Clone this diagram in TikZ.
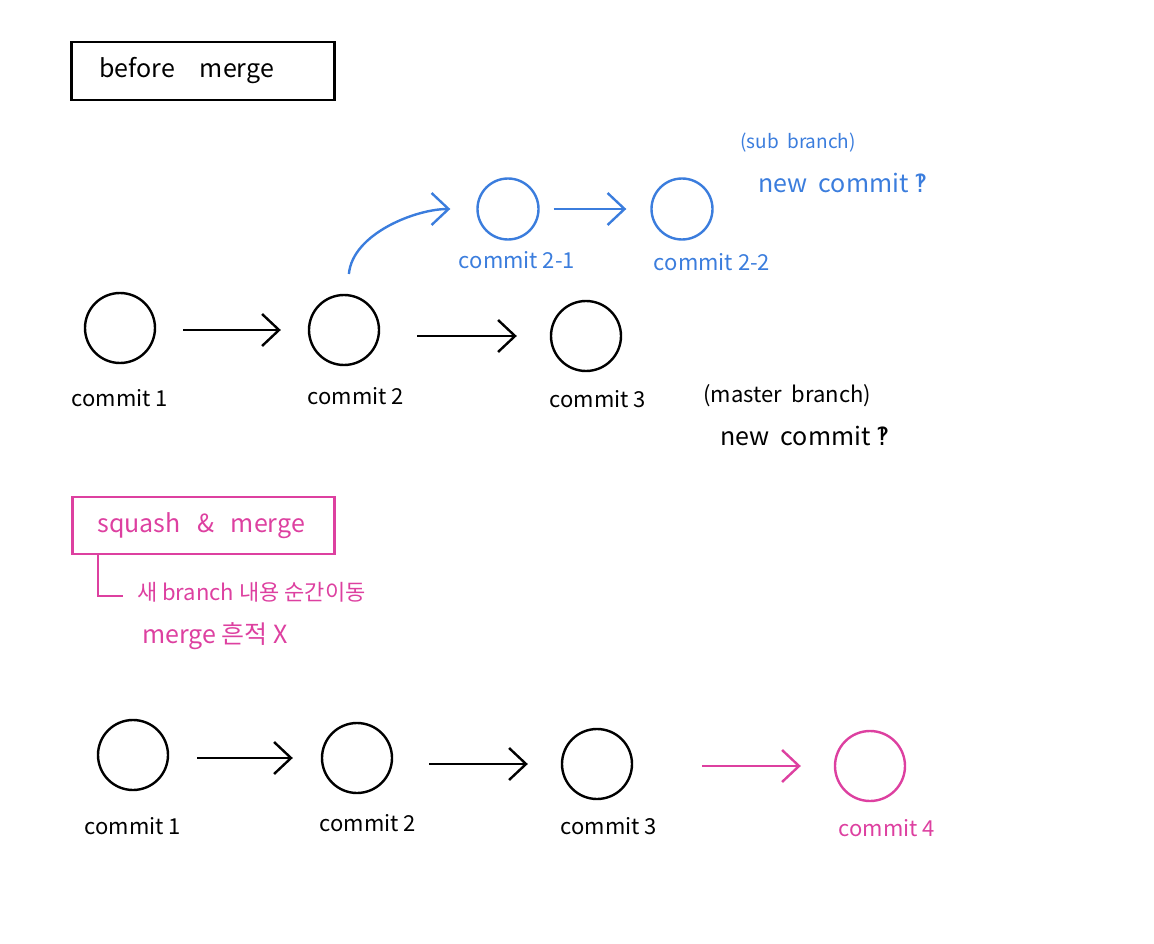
\documentclass[tikz,border=0pt]{standalone}
\usepackage{fontspec}
\setmainfont{Noto Sans CJK KR}
\newfontfamily\symf{DejaVu Sans}
\usetikzlibrary{arrows.meta}
\definecolor{bblue}{RGB}{59,125,221}
\definecolor{ppink}{RGB}{221,64,160}
\tikzset{
  cnode/.style={circle,draw,line width=2.4pt,minimum size=70pt,inner sep=0pt},
  bnode/.style={cnode,draw=bblue,minimum size=61pt},
  pnode/.style={cnode,draw=ppink},
  arr/.style={line width=2.4pt,-{Straight Barb[length=17pt,width=32pt,line width=2.4pt]}},
  lbl/.style={font=\fontsize{22}{25}\selectfont,inner sep=0pt},
  box/.style={draw,line width=2.6pt,anchor=west,minimum height=58pt,align=left,font=\fontsize{25}{28}\selectfont},
}
\begin{document}
\begin{tikzpicture}[x=1pt,y=1pt]
\useasboundingbox (0,0) rectangle (1154,-944);
% before merge
\node[box,text width=207pt,inner xsep=28pt] (bm) at (70,-71) {before\ \ \ merge};
% top row
\node[cnode] (t1) at (120,-328) {};
\node[cnode] (t2) at (344,-330) {};
\node[cnode] (t3) at (586,-336) {};
\draw[arr,shorten <=27pt,shorten >=27pt] (t2.west -| t1.east) -- (t2.west);
\draw[arr,shorten <=37pt,shorten >=33pt] (t3.west -| t2.east) -- (t3.west);
\node[lbl] (lt1) at (120,-398) {commit 1};
\node[lbl] (lt2) at (356,-396) {commit 2};
\node[lbl] (lt3) at (598,-399) {commit 3};
% sub branch
\node[bnode] (b1) at (508,-209) {};
\node[bnode] (b2) at (682,-209) {};
\draw[arr,draw=bblue,shorten <=20pt,shorten >=26pt] (t2) to[out=85,in=180] (b1);
\draw[arr,draw=bblue,shorten <=14pt,shorten >=24pt] (b1) -- (b2);
\node[lbl,text=bblue] (lb1) at (517,-260) {commit 2-1};
\node[lbl,text=bblue] (lb2) at (712,-262) {commit 2-2};
\node[lbl,text=bblue,anchor=west,font=\fontsize{19}{22}\selectfont] (sb) at (740,-143) {(sub\ \ branch)};
\node[lbl,text=bblue,anchor=west,font=\fontsize{25}{28}\selectfont] (snc) at (758,-183) {new\ \ commit {\symf ‽}};
\node[lbl,anchor=west,font=\fontsize{22}{25}\selectfont] (mb) at (703,-396) {(master\ \ branch)};
\node[lbl,anchor=west,font=\fontsize{25}{28}\selectfont] (mnc) at (720,-436) {new\ \ commit {\symf ‽}};
% squash & merge
\node[box,draw=ppink,text=ppink,text width=212pt,inner xsep=25pt,minimum height=57pt] (sq) at (71,-525.5) {squash\ \ \&\ \ merge};
\coordinate (lend) at (123,-596);
\draw[ppink,line width=2.2pt] ([xshift=27pt]sq.south west) |- (lend);
\node[lbl,text=ppink,anchor=west] (k1) at (137,-592) {새 branch 내용 순간이동};
\node[lbl,text=ppink,anchor=west,font=\fontsize{25}{28}\selectfont] (k2) at (142,-636) {merge 흔적 X};
% bottom row
\node[cnode] (d1) at (133,-755) {};
\node[cnode] (d2) at (357,-758) {};
\node[cnode] (d3) at (597,-764) {};
\node[pnode] (d4) at (870,-766) {};
\draw[arr,shorten <=28pt,shorten >=28pt] (d2.west -| d1.east) -- (d2.west);
\draw[arr,shorten <=36pt,shorten >=33pt] (d3.west -| d2.east) -- (d3.west);
\draw[arr,draw=ppink,shorten <=69pt,shorten >=33pt] (d4.west -| d3.east) -- (d4.west);
\node[lbl] (ld1) at (133,-826) {commit 1};
\node[lbl] (ld2) at (368,-823) {commit 2};
\node[lbl] (ld3) at (609,-826) {commit 3};
\node[lbl,text=ppink] (ld4) at (887,-828) {commit 4};
\end{tikzpicture}
\end{document}
